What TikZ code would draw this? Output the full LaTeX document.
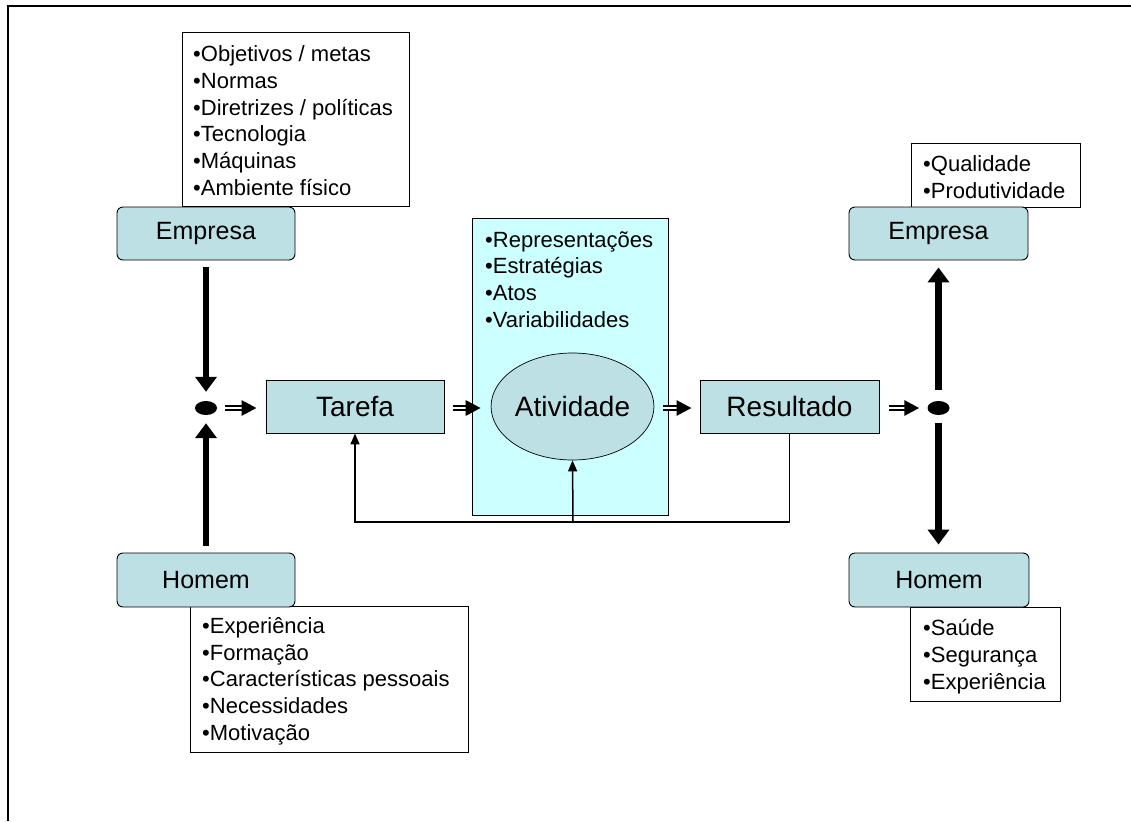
\documentclass[tikz,border=0pt]{standalone}
\usepackage{fontspec}
\setmainfont{Liberation Sans}
\usetikzlibrary{arrows.meta,shapes.geometric}
\definecolor{boxteal}{RGB}{188,224,227}
\definecolor{actcyan}{RGB}{204,255,255}

\begin{document}
\begin{tikzpicture}[
    x=1pt, y=-1pt,
    tealbox/.style={rectangle, draw, fill=boxteal, line width=0.9pt, inner sep=0pt, minimum width=178pt, minimum height=53pt, font=\fontsize{28}{34}\selectfont},
    roundbox/.style={tealbox, rounded corners=6pt, font=\fontsize{25}{30}\selectfont},
    listbox/.style={rectangle, draw, fill=white, line width=0.9pt, inner sep=0pt},
    listtext/.style={anchor=base west, align=left, inner sep=0pt, font=\fontsize{22}{26.6}\selectfont},
    junction/.style={ellipse, fill=black, inner sep=0pt, minimum width=22pt, minimum height=14pt},
    bigarrow/.style={line width=6.5pt, -{Triangle[width=21pt,length=15pt]}},
    dblarrow/.style={double, double distance=1.2pt, line width=2.8pt, -{Triangle[width=15pt,length=15pt]}},
    thinarrow/.style={line width=1.5pt, -{Triangle[width=9pt,length=11pt]}}
]
    \useasboundingbox (0,0) rectangle (1131,821);
    \draw[line width=1.5pt] (8,821) -- (8,6) -- (1131,6);

    % lists
    \node [listbox, minimum width=227pt, minimum height=174pt] (empin) at (295.5,119) {};
    \node [listtext] (empintext) at (193,195) {•Objetivos / metas\\•Normas\\•Diretrizes / políticas\\•Tecnologia\\•Máquinas\\•Ambiente físico};
    \node [listbox, minimum width=278pt, minimum height=146pt] (homin) at (329,679) {};
    \node [listtext] (homintext) at (202,740) {•Experiência\\•Formação\\•Características pessoais\\•Necessidades\\•Motivação};
    \node [listbox, minimum width=169pt, minimum height=64pt] (empout) at (995.5,175) {};
    \node [listtext] (empouttext) at (923,198) {•Qualidade\\•Produtividade};
    \node [listbox, minimum width=150pt, minimum height=94pt] (homout) at (985,654) {};
    \node [listtext] (homouttext) at (923,689) {•Saúde\\•Segurança\\•Experiência};

    % boxes
    \node [roundbox] (emp1) at (206,233.5) {Empresa};
    \node [roundbox, minimum height=54pt] (hom1) at (206,580) {Homem};
    \node [roundbox, minimum width=179pt] (emp2) at (938.5,233.5) {Empresa};
    \node [roundbox, minimum width=180pt, minimum height=54pt] (hom2) at (939,580) {Homem};
    \node [tealbox] (tar) at (355,406.5) {Tarefa};
    \node [tealbox, minimum width=179pt] (res) at (789.5,406.5) {Resultado};
    \node [draw, fill=actcyan, line width=0.9pt, minimum width=196pt, minimum height=297pt] (actbox) at (570,366.5) {};
    \node [listtext] (acttext) at (485,327) {•Representações\\•Estratégias\\•Atos\\•Variabilidades};
    \node [tealbox, ellipse, line width=0.7pt, minimum width=139pt, minimum height=107pt] (act) at (572.5,406.5) {Atividade};

    \node [junction] (dotL) at (206,408) {};
    \node [junction] (dotR) at (938.5,408) {};
    \coordinate (fb) at (573,522);

    \draw [bigarrow, shorten <=7pt, shorten >=9pt] (emp1.south) -- (emp1.south |- dotL.north);
    \draw [bigarrow, shorten <=7pt, shorten >=8pt] (hom1.north) -- (hom1.north |- dotL.south);
    \draw [bigarrow, shorten <=11pt, shorten >=7pt] (dotR.north) -- (dotR.north |- emp2.south);
    \draw [bigarrow, shorten <=8pt, shorten >=8pt] (dotR.south) -- (dotR.south |- hom2.north);
    \draw [dblarrow, shorten <=8pt, shorten >=9pt] (dotL.east) -- (dotL.east -| tar.west);
    \draw [dblarrow, shorten <=9pt, shorten >=10pt] (tar.east |- dotL) -- (act.west |- dotL);
    \draw [dblarrow, shorten <=9pt, shorten >=8pt] (act.east |- dotL) -- (res.west |- dotL);
    \draw [dblarrow, shorten <=10pt, shorten >=8pt] (res.east |- dotR) -- (dotR.west);
    \draw [thinarrow] (res.south) |- (fb) -| (tar.south);
    \draw [thinarrow] (fb) -- (act.south);
\end{tikzpicture}
\end{document}
